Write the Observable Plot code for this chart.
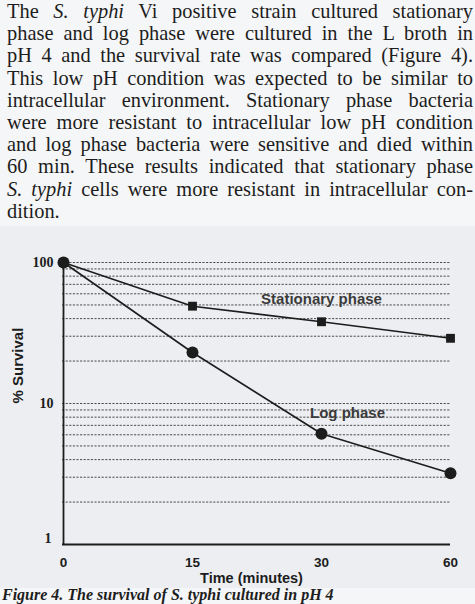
<!DOCTYPE html>
<html>
<head>
<meta charset="utf-8">
<script src="https://cdn.jsdelivr.net/npm/d3@7"></script>
<script src="https://cdn.jsdelivr.net/npm/@observablehq/plot@0.6"></script>
<style>
  html, body { margin: 0; padding: 0; width: 475px; height: 604px; overflow: hidden; background: #f5f6f7; }
  #text { position: absolute; top: 0; left: 0; width: 466px; padding: 0 2px 0 7px;
          font-family: "Liberation Serif", serif; font-size: 20.4px; line-height: 22.2px; color: #1d1d1d; }
  #text div { text-align: justify; text-align-last: justify; }
  #text div.last { text-align-last: left; }
  #chart { position: absolute; top: 226px; left: 0; width: 475px; height: 362px; background: #eceef1; }
  #caption { position: absolute; top: 587px; left: 2px; font-family: "Liberation Serif", serif;
             font-size: 16px; line-height: 16px; font-weight: bold; font-style: italic; color: #1d1d1d; white-space: nowrap; }
</style>
</head>
<body>
<div id="text">
  <div>The <i>S. typhi</i> Vi positive strain cultured stationary</div>
  <div>phase and log phase were cultured in the L broth in</div>
  <div>pH 4 and the survival rate was compared (Figure 4).</div>
  <div>This low pH condition was expected to be similar to</div>
  <div>intracellular environment. Stationary phase bacteria</div>
  <div>were more resistant to intracellular low pH condition</div>
  <div>and log phase bacteria were sensitive and died within</div>
  <div>60 min. These results indicated that stationary phase</div>
  <div><i>S. typhi</i> cells were more resistant in intracellular con-</div>
  <div class="last">dition.</div>
</div>
<div id="chart"></div>
<div id="caption">Figure 4. The survival of <i>S. typhi</i> cultured in pH 4</div>
<script>
// Sampling times (minutes) and % survival of each culture at pH 4
const times = [0, 15, 30, 60];
const stationarySurvival = [100, 49, 38, 29];
const logSurvival = [100, 23, 6.1, 3.2];

// Axis ticks and the dotted log-scale guide levels
const yTickMajor = [10, 100];
const yTickLow = [1];
const gridLevels = [2, 3, 4, 5, 6, 7, 8, 9, 10, 20, 30, 40, 50, 60, 70, 80, 90, 100];

const toRows = (values) => times.map((t, i) => ({t, v: values[i]}));
const stationary = toRows(stationarySurvival);
const logPhase = toRows(logSurvival);

const ink = "#1c1c1c";
const serifBold = {fontFamily: "Liberation Serif", fontWeight: "bold", fontSize: 14, fill: ink};
const sansBold = {fontFamily: "Liberation Sans", fontWeight: "bold", fill: ink};

const chart = Plot.plot({
  width: 475,
  height: 362,
  marginTop: 36,
  marginBottom: 44,
  marginLeft: 62,
  marginRight: 25,
  style: {background: "transparent", color: ink, overflow: "visible"},
  x: {type: "point", domain: times, padding: 0, axis: null},
  y: {type: "log", domain: [1, 100], axis: null},
  marks: [
    Plot.ruleY(gridLevels, {stroke: "#4d4d4d", strokeWidth: 1, strokeDasharray: "2.2,1.4"}),
    Plot.ruleX([0], {y1: 1, y2: 100, stroke: ink, strokeWidth: 1.8}),
    Plot.ruleY([1], {stroke: ink, strokeWidth: 1.8}),
    // y tick labels
    Plot.text(yTickMajor, {y: (d) => d, text: (d) => String(d), frameAnchor: "left", textAnchor: "end", dx: -9, ...serifBold}),
    Plot.text(yTickLow, {y: (d) => d, text: (d) => String(d), frameAnchor: "left", textAnchor: "end", dx: -11, dy: -6, ...serifBold}),
    // x tick labels
    Plot.text(times, {x: (d) => d, text: (d) => String(d), frameAnchor: "bottom", lineAnchor: "middle", dy: 18, fontSize: 13.5, ...sansBold}),
    Plot.line(stationary, {x: "t", y: "v", stroke: ink, strokeWidth: 1.6}),
    Plot.line(logPhase, {x: "t", y: "v", stroke: ink, strokeWidth: 1.6}),
    Plot.dot(logPhase, {x: "t", y: "v", r: 6, fill: ink, symbol: "circle"}),
    Plot.dot(stationary, {x: "t", y: "v", r: 5, fill: ink, symbol: "square"}),
    Plot.text(["Stationary phase"], {x: 30, y: 54.5, fontSize: 15, ...sansBold, fill: "#3a3a3a"}),
    Plot.text(["Log phase"], {x: 30, y: 8.5, dx: 26, fontSize: 15, ...sansBold, fill: "#3a3a3a"}),
    Plot.text(["% Survival"], {frameAnchor: "left", rotate: -90, dx: -44, fontSize: 15, ...sansBold}),
    Plot.text(["Time (minutes)"], {frameAnchor: "bottom", lineAnchor: "middle", dy: 34, dx: -5, fontSize: 14.5, ...sansBold})
  ]
});

document.getElementById("chart").appendChild(chart);
</script>
</body>
</html>
